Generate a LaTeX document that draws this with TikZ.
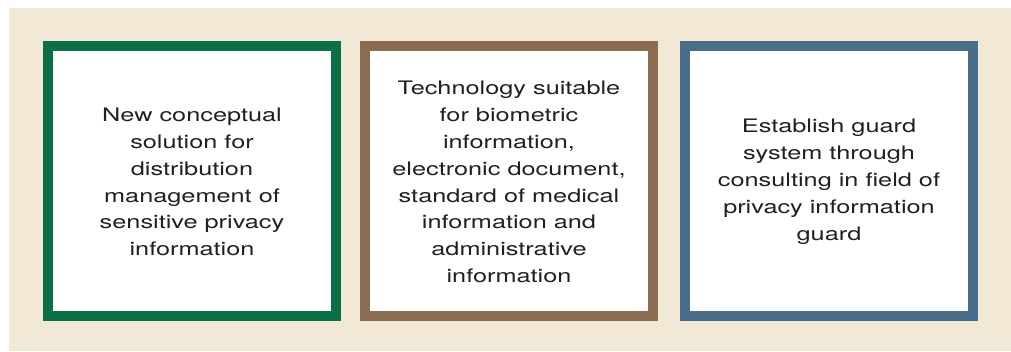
\documentclass[tikz,border=0pt]{standalone}
\usepackage{fontspec}
\setmainfont[FakeStretch=1.36]{TeX Gyre Heros}
\definecolor{bg}{HTML}{F1E9D6}
\definecolor{cgreen}{HTML}{0B6F47}
\definecolor{cbrown}{HTML}{8A6D50}
\definecolor{cblue}{HTML}{4A6E8A}
\definecolor{ctext}{HTML}{231F20}
\begin{document}
\begin{tikzpicture}[x=1pt,y=-1pt,
  panel/.style={draw=#1, line width=10pt, fill=white},
  ptext/.style={align=center, text=ctext, font=\fontsize{18.6}{26.9}\selectfont, inner sep=0pt}]
\useasboundingbox (0,0) rectangle (1011,351);
\fill[white] (0,0) rectangle (1011,351);
\fill[bg] (9,8) rectangle (1011,351);
\draw[panel=cgreen] (48,46) rectangle (336,316);
\draw[panel=cbrown] (365,46) rectangle (653,316);
\draw[panel=cblue] (685,46) rectangle (973,316);
\node[ptext] (t1) at (192,182) {New conceptual\\solution for\\distribution\\management of\\sensitive privacy\\information};
\node[ptext] (t2) at (509,182) {Technology suitable\\for biometric\\information,\\electronic document,\\standard of medical\\information and\\administrative\\information};
\node[ptext] (t3) at (829,182) {Establish guard\\system through\\consulting in field of\\privacy information\\guard};
\end{tikzpicture}
\end{document}
